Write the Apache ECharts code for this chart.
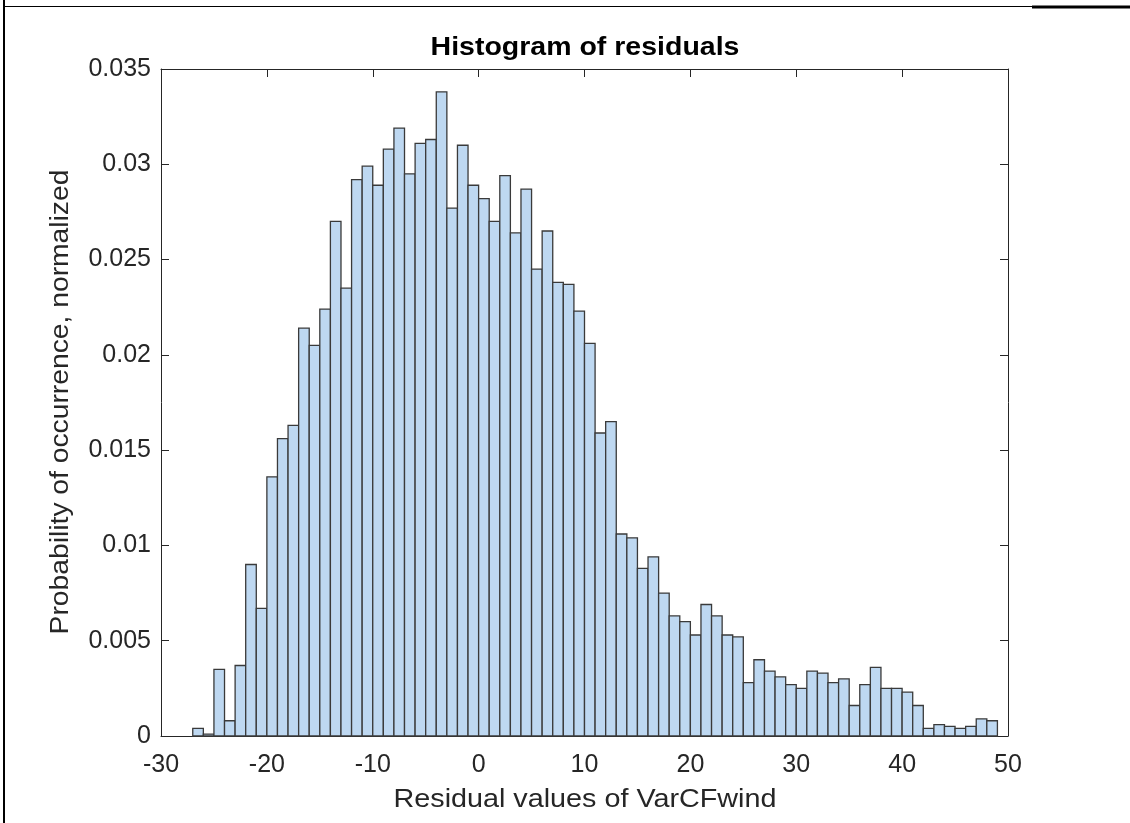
<!DOCTYPE html>
<html>
<head>
<meta charset="utf-8">
<script src="https://cdn.jsdelivr.net/npm/echarts@6/dist/echarts.min.js"></script>
<style>
  html, body { margin: 0; padding: 0; background: #fff; }
  #chart { width: 1130px; height: 823px; }
</style>
</head>
<body>
<div id="chart"></div>
<script>
// Histogram of residuals: bins of width 1 starting at -27
const binStart = -27;
const binWidth = 1;
const probabilities = [
  0.0004, 0.0001, 0.0035, 0.0008, 0.0037, 0.0090, 0.0067, 0.0136, 0.0156, 0.0163,
  0.0214, 0.0205, 0.0224, 0.0270, 0.0235, 0.0292, 0.0299, 0.0289, 0.0308, 0.0319,
  0.0295, 0.0311, 0.0313, 0.0338, 0.0277, 0.0310, 0.0289, 0.0282, 0.0270, 0.0294,
  0.0264, 0.0287, 0.0245, 0.0265, 0.0238, 0.0237, 0.0223, 0.0206, 0.0159, 0.0165,
  0.0106, 0.0104, 0.0088, 0.0094, 0.0075, 0.0063, 0.0060, 0.0053, 0.0069, 0.0063,
  0.0053, 0.0052, 0.0028, 0.0040, 0.0034, 0.0031, 0.0027, 0.0025, 0.0034, 0.0033,
  0.0028, 0.0030, 0.0016, 0.0027, 0.0036, 0.0025, 0.0025, 0.0023, 0.0016, 0.0004,
  0.0006, 0.0005, 0.0004, 0.0005, 0.0009, 0.0008
];
const xTicks = [-30, -20, -10, 0, 10, 20, 30, 40, 50];
const yTicks = [0, 0.005, 0.01, 0.015, 0.02, 0.025, 0.03, 0.035];

const titleText = 'Histogram of residuals';
const xName = 'Residual values of VarCFwind';
const yName = 'Probability of occurrence, normalized';

// [left edge, right edge, height] per bin
const bins = probabilities.map((p, i) => [binStart + i * binWidth, binStart + (i + 1) * binWidth, p]);

const ink = '#262626';
const font = '"Liberation Sans", Arial, Helvetica, sans-serif';

// box-style axis: line plus inward ticks, no grid lines
function boxAxis(extra) {
  return Object.assign({
    axisLine: { show: true, onZero: false, lineStyle: { color: ink, width: 1 } },
    axisTick: { show: true, inside: true, length: 8, lineStyle: { color: ink } },
    splitLine: { show: false },
    axisLabel: { show: false }
  }, extra);
}

const chart = echarts.init(document.getElementById('chart'), null, { renderer: 'canvas' });
chart.setOption({
  backgroundColor: '#ffffff',
  animation: false,
  grid: { left: 161, right: 122, top: 69, bottom: 87, containLabel: false },
  xAxis: [
    boxAxis({
      type: 'value', min: xTicks[0], max: xTicks[xTicks.length - 1], interval: 10,
      position: 'bottom',
      axisLabel: { show: true, fontFamily: font, fontSize: 25, color: ink, margin: 17 }
    }),
    boxAxis({
      type: 'value', min: xTicks[0], max: xTicks[xTicks.length - 1], interval: 10,
      position: 'top'
    })
  ],
  yAxis: [
    boxAxis({
      type: 'value', min: yTicks[0], max: yTicks[yTicks.length - 1], interval: 0.005,
      position: 'left',
      axisLabel: {
        show: true, fontFamily: font, fontSize: 25, color: ink, margin: 10,
        formatter: v => String(parseFloat(v.toFixed(3)))
      }
    }),
    boxAxis({
      type: 'value', min: yTicks[0], max: yTicks[yTicks.length - 1], interval: 0.005,
      position: 'right'
    })
  ],
  series: [{
    type: 'custom',
    xAxisIndex: 0, yAxisIndex: 0,
    data: bins,
    renderItem: function (params, api) {
      const p0 = api.coord([api.value(0), api.value(2)]);
      const p1 = api.coord([api.value(1), 0]);
      return {
        type: 'rect',
        shape: { x: p0[0], y: p0[1], width: p1[0] - p0[0], height: p1[1] - p0[1] },
        style: { fill: '#bed8f1', stroke: '#3a3a3a', lineWidth: 1.3 }
      };
    }
  }],
  graphic: [
    // title and axis names
    {
      type: 'text', x: 585, y: 48, scaleX: 1.14,
      style: { text: titleText, fontFamily: font, fontSize: 25, fontWeight: 'bold', fill: '#000',
               textAlign: 'center', textVerticalAlign: 'middle' }
    },
    {
      type: 'text', x: 585, y: 800, scaleX: 1.15,
      style: { text: xName, fontFamily: font, fontSize: 25, fill: ink,
               textAlign: 'center', textVerticalAlign: 'middle' }
    },
    {
      type: 'text', x: 61, y: 402, rotation: Math.PI / 2, scaleX: 1.13,
      style: { text: yName, fontFamily: font, fontSize: 25, fill: ink,
               textAlign: 'center', textVerticalAlign: 'middle' }
    },
    // page frame
    { type: 'line', shape: { x1: 4, y1: 0, x2: 4, y2: 823 }, style: { stroke: '#000', lineWidth: 2 } },
    { type: 'line', shape: { x1: 4, y1: 6.5, x2: 1032, y2: 6.5 }, style: { stroke: '#000', lineWidth: 1 } },
    { type: 'line', shape: { x1: 1032, y1: 7, x2: 1130, y2: 7 }, style: { stroke: '#000', lineWidth: 3 } }
  ]
});
</script>
</body>
</html>
